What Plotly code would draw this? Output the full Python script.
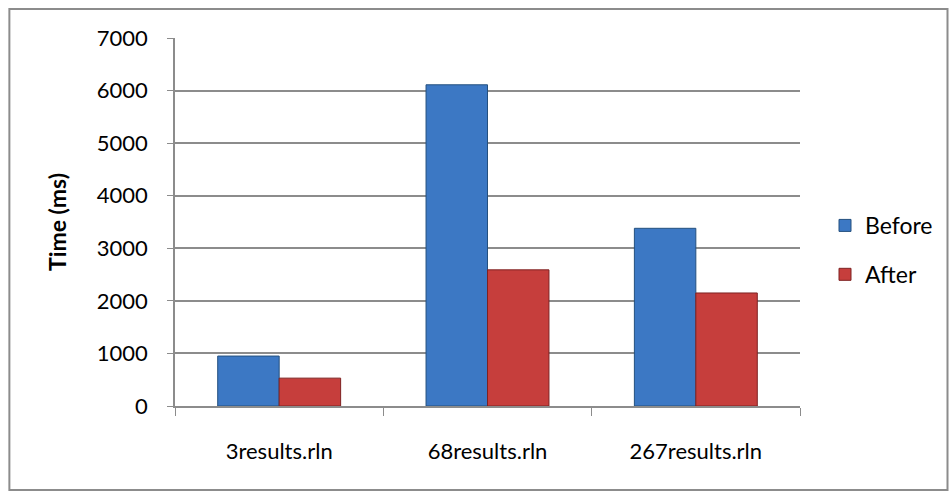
import plotly.graph_objects as go

categories = ["3results.rln", "68results.rln", "267results.rln"]
before_ms = [950, 6110, 3380]
after_ms = [530, 2590, 2150]
y_ticks = [0, 1000, 2000, 3000, 4000, 5000, 6000, 7000]

FONT = "Lato, Carlito, Calibri, sans-serif"
BLUE = "#3C78C4"
RED = "#C63E3C"

fig = go.Figure()
fig.add_trace(go.Bar(
    name="Before", x=categories, y=before_ms, legendgroup="before",
    marker=dict(color=BLUE, line=dict(color="#24507F", width=1)),
))
fig.add_trace(go.Bar(
    name="After", x=categories, y=after_ms, legendgroup="after",
    marker=dict(color=RED, line=dict(color="#7E2222", width=1)),
))

axis_grey = "#8C8C8C"
fig.update_layout(
    width=952, height=495,
    margin=dict(l=175, r=152, t=38, b=89),
    paper_bgcolor="white", plot_bgcolor="white",
    barmode="group", bargap=0.41, bargroupgap=0,
    font=dict(family=FONT, size=19, color="#000000"),
    showlegend=True,
    legend=dict(x=1.04, y=0.424, xanchor="left", yanchor="middle",
                font=dict(size=23), tracegroupgap=16,
                bgcolor="rgba(0,0,0,0)"),
    xaxis=dict(
        showline=True, linecolor=axis_grey, linewidth=1.5,
        ticks="outside", tickson="boundaries", ticklen=8, tickcolor=axis_grey,
        ticklabelstandoff=25, showgrid=False,
        tickfont=dict(size=22),
    ),
    yaxis=dict(
        range=[0, 7000], tickvals=y_ticks,
        showline=True, linecolor=axis_grey, linewidth=1.5,
        ticks="outside", ticklen=6, tickcolor=axis_grey, ticklabelstandoff=15,
        showgrid=True, gridcolor=axis_grey, gridwidth=1.5,
        zeroline=False, tickfont=dict(size=22),
        title=dict(text="<b>Time (ms)</b>", font=dict(size=23), standoff=24),
    ),
    shapes=[dict(
        type="rect", xref="paper", yref="paper",
        x0=-0.265, x1=1.236, y0=-0.228, y1=1.079,
        line=dict(color="#8C8C8C", width=2), fillcolor="rgba(0,0,0,0)",
        layer="below",
    )],
)

fig.write_html("out.html")
